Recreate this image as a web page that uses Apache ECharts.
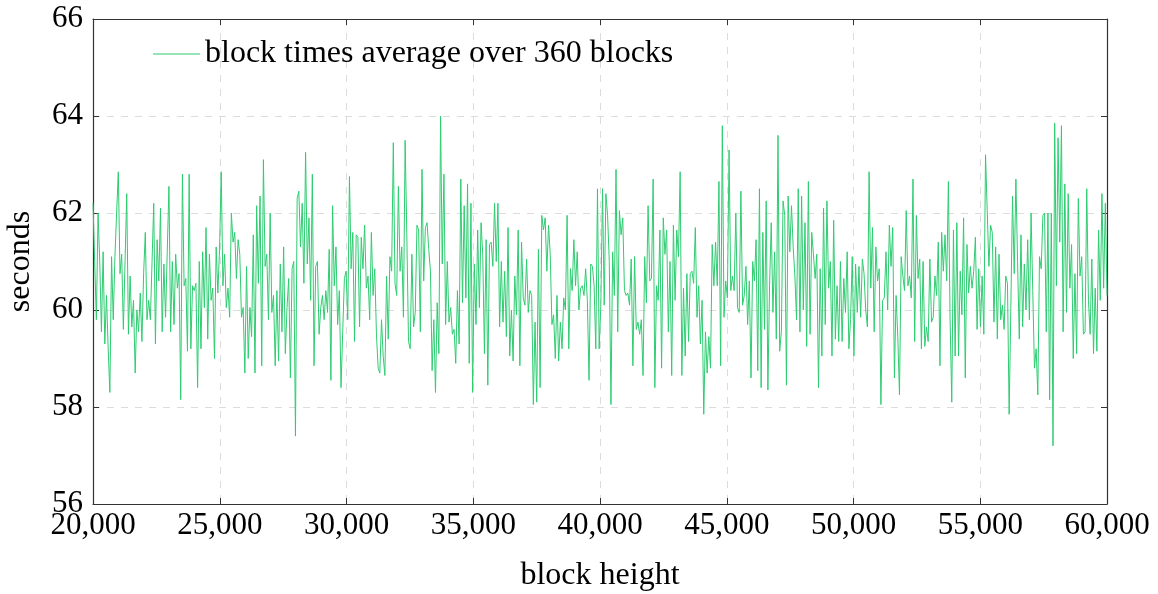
<!DOCTYPE html>
<html>
<head>
<meta charset="utf-8">
<script src="https://cdn.jsdelivr.net/npm/echarts@6/dist/echarts.min.js"></script>
<style>html,body{margin:0;padding:0;background:#fff}#c{width:1158px;height:594px}</style>
</head>
<body>
<div id="c"></div>
<script>
const seriesName = 'block times average over 360 blocks';
const xMin = 20000, xMax = 60000, xStep = 5000;
const yMin = 56, yMax = 66, yStep = 2;
// block-time averages, read left to right in 12 stretches of the x range
const seg1 = [62.2,61.0,59.8,62.0,61.0,59.55,61.2,59.3,60.3,59.2,58.3,61.1,59.8,61.1,62.0,62.85,60.75,61.15,59.6,61.0,62.4,59.5,60.7,59.65,60.2,58.7,60.0,59.55,60.35,59.35,60.75,61.6,59.8,60.2,59.8,61.0,62.2,59.3,61.45,60.6,62.1,59.55,60.95,59.85,61.2,62.55,59.55,61.0];
const seg2 = [59.7,61.15,60.45,60.75,58.15,62.8,60.5,60.65,59.15,62.8,59.2,60.5,60.4,60.55,58.4,61.0,59.2,61.2,60.05,61.7,59.4,61.15,60.2,60.45,59.0,61.3,60.35,61.25,62.85,60.5,61.15,60.05,60.45,59.85,62.0,61.4,61.6,60.65,61.45,61.15,59.85,60.05,58.7,60.9,59.0,60.05,59.45,61.55,58.7,62.15,60.55];
const seg3 = [62.35,58.85,63.1,60.9,61.15,59.8,62.0,59.95,60.3,58.85,60.4,58.95,60.95,59.55,61.3,59.1,60.05,60.65,58.6,60.85,61.0,57.4,62.3,62.45,61.3,62.2,60.55,63.25,60.95,61.9,60.2,62.8,58.85,60.9,61.0,59.5,60.05,60.3,59.8,60.4,59.95,61.25,58.55,62.15,60.5,61.3,59.7,60.4,58.4];
const seg4 = [59.55,60.65,60.8,59.8,62.75,60.85,61.6,59.35,61.55,61.5,59.65,61.5,60.85,61.75,60.45,60.7,59.8,61.6,60.3,60.85,59.5,58.8,58.7,59.8,59.05,58.65,60.7,59.4,61.1,60.8,63.45,60.55,60.3,62.55,60.8,61.3,59.85,63.5,61.55,59.35,59.2,61.15,59.65,59.95,61.75,61.65,59.55,62.9,60.6,61.7,61.8];
const seg5 = [61.25,60.8,58.75,59.8,58.3,60.15,59.1,64.0,60.95,62.8,59.7,61.0,59.75,60.05,59.5,59.6,58.9,60.4,59.3,62.7,60.15,62.15,60.25,62.6,58.9,62.2,58.3,60.95,59.7,61.65,60.05,61.8,61.15,59.1,61.45,58.45,61.35,61.4,60.9,62.2,61.0,62.2,59.65,61.0,59.75,60.8,59.45,61.7,59.05,60.0,58.95,60.7];
const seg6 = [59.9,61.65,58.85,61.4,60.25,60.1,61.05,59.95,60.4,60.3,58.05,59.75,58.1,61.25,58.4,61.95,61.65,61.9,60.8,61.75,61.15,59.7,59.9,59.0,60.3,58.95,59.75,59.2,60.25,60.0,61.95,59.2,60.85,60.4,61.45,60.5,61.2,60.0,60.45,60.5,60.3,60.85,60.2,58.55,60.95,60.9,60.5,59.2,62.5,59.2,60.1,62.5,60.1,62.4];
const seg7 = [61.95,61.0,58.05,61.2,60.3,62.9,59.55,62.05,61.55,61.9,60.4,60.3,60.35,60.1,61.05,58.85,61.1,59.6,59.75,59.5,59.8,58.65,61.1,60.15,62.15,60.6,60.65,62.7,58.4,60.5,60.2,61.65,58.8,61.9,61.15,61.65,59.55,61.0,58.65,61.75,60.2,61.65,61.1,62.85,58.65,60.45,59.05,60.75,59.35,60.75,60.8,60.55,61.7,59.85,60.5,59.3];
const seg8 = [60.2,57.85,59.55,58.7,59.45,58.8,61.35,60.5,61.4,60.5,62.65,58.85,63.8,59.85,60.6,60.25,63.3,60.4,60.7,60.4,62.0,60.05,59.95,62.45,60.1,60.3,60.9,59.7,60.6,58.6,61.0,60.6,61.45,58.75,62.5,58.4,61.6,59.6,62.25,58.35,60.5,61.8,59.95,61.2,59.4,63.6,59.15,59.55,62.25,61.95];
const seg9 = [58.45,62.35,61.2,62.15,61.3,60.7,59.8,62.5,59.55,62.35,60.0,61.8,59.25,62.65,59.5,61.6,61.15,60.65,61.15,58.4,60.85,59.05,62.1,59.7,62.25,60.45,61.0,59.05,61.85,59.4,60.5,59.35,61.0,59.35,60.65,59.95,61.2,59.2,59.8,61.1,59.05,60.95,59.95,60.9,59.85,61.05];
const seg10 = [60.75,60.0,59.65,62.85,60.45,61.7,59.55,61.3,60.6,60.85,58.05,60.2,60.25,61.2,60.0,61.75,60.9,61.7,58.6,60.3,59.45,58.25,61.1,60.7,60.4,62.05,60.5,60.7,60.25,62.7,59.35,61.95,60.65,61.05,59.2,61.0,59.25,59.65,59.35,61.05,59.75,59.85,60.7,60.3,61.4,58.85,61.6,60.8,61.55,60.6,62.65,59.8];
const seg11 = [58.1,61.65,59.05,61.8,59.05,60.8,59.9,61.9,58.6,61.35,60.35,60.9,60.45,60.8,61.5,59.6,60.85,59.65,60.7,59.5,63.2,62.05,60.9,61.75,61.6,59.75,61.3,59.4,61.15,59.8,60.1,59.6,60.7,60.55,57.85,60.05,62.35,60.75,62.7,61.0,59.4,61.55,59.65,60.95,60.0,61.45,59.8,62.0,60.4,58.8];
const seg12 = [59.2,58.25,61.1,60.85,61.95,62.0,59.55,62.0,58.15,62.0,57.2,63.85,60.5,63.55,61.4,63.8,59.55,62.6,59.95,62.4,60.45,61.35,59.0,60.75,59.1,62.3,60.7,61.1,59.5,59.55,62.5,60.2,59.5,61.05,59.1,60.45,59.15,61.65,60.2,62.4,60.45,62.2,60.3];

const values = [].concat(seg1,seg2,seg3,seg4,seg5,seg6,seg7,seg8,seg9,seg10,seg11,seg12);
const heightStep = (xMax - xMin) / (values.length - 1);
const points = values.map((v, i) => [xMin + i * heightStep, v]);

const font = 'Liberation Serif';
const axisColor = '#333';
const chart = echarts.init(document.getElementById('c'), null, {renderer: 'canvas'});
const tickCommon = {show: true, inside: true, length: 6, lineStyle: {color: axisColor, width: 1}};
const lineCommon = {show: true, onZero: false, lineStyle: {color: axisColor, width: 1.2}};
chart.setOption({
  animation: false,
  grid: {left: 93, right: 51, top: 19, bottom: 90, containLabel: false, outerBoundsMode: 'none'},
  legend: {
    data: [seriesName], left: 148, top: 33, icon: 'rect', itemWidth: 47, itemHeight: 1.2, itemGap: 0,
    textStyle: {fontFamily: font, fontSize: 32, color: '#000'}
  },
  xAxis: [{
    type: 'value', min: xMin, max: xMax, interval: xStep, position: 'bottom',
    name: 'block height', nameLocation: 'middle', nameGap: 56,
    nameTextStyle: {fontFamily: font, fontSize: 32, color: '#000'},
    axisLine: lineCommon, axisTick: tickCommon,
    axisLabel: {fontFamily: font, fontSize: 31, color: '#000', margin: 6, formatter: v => v.toLocaleString('en-US')},
    splitLine: {show: true, lineStyle: {type: [7, 7], color: '#dcdcdc', width: 1}}
  }, {
    type: 'value', min: xMin, max: xMax, interval: xStep, position: 'top',
    axisLine: lineCommon, axisTick: tickCommon, axisLabel: {show: false}, splitLine: {show: false}
  }],
  yAxis: [{
    type: 'value', min: yMin, max: yMax, interval: yStep, position: 'left',
    name: 'seconds', nameLocation: 'middle', nameGap: 56,
    nameTextStyle: {fontFamily: font, fontSize: 32, color: '#000'},
    axisLine: lineCommon, axisTick: tickCommon,
    axisLabel: {fontFamily: font, fontSize: 31, color: '#000', margin: 10},
    splitLine: {show: true, lineStyle: {type: [7, 7], color: '#dcdcdc', width: 1}}
  }, {
    type: 'value', min: yMin, max: yMax, interval: yStep, position: 'right',
    axisLine: lineCommon, axisTick: tickCommon, axisLabel: {show: false}, splitLine: {show: false}
  }],
  series: [{
    name: seriesName, type: 'line', xAxisIndex: 0, yAxisIndex: 0,
    data: points, showSymbol: false, symbol: 'none',
    lineStyle: {color: '#2ecc71', width: 1}, itemStyle: {color: '#2ecc71'}
  }]
});
</script>
</body>
</html>
